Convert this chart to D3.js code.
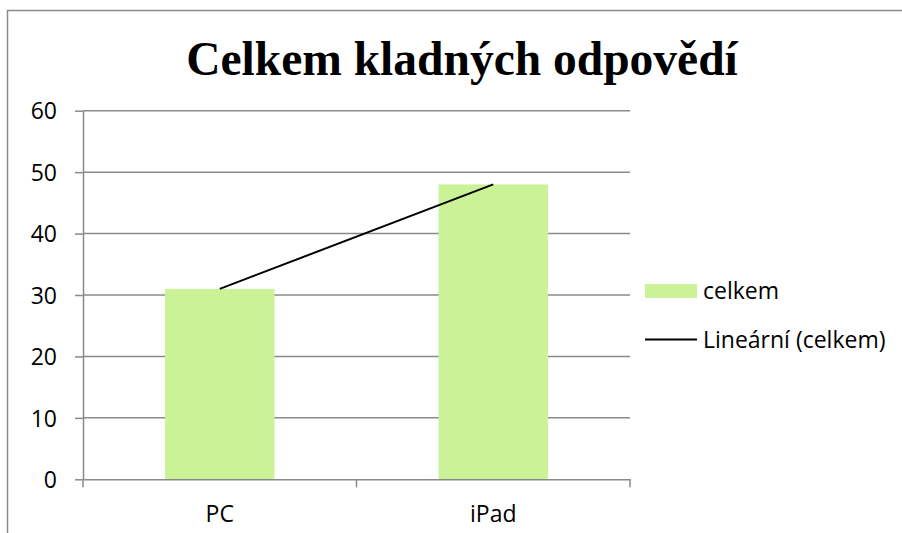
<!DOCTYPE html>
<html lang="cs">
<head>
    <meta charset="UTF-8">
    <title>Celkem kladných odpovědí</title>
    <script src="https://d3js.org/d3.v7.min.js"></script>
    <style>
        body { margin: 0; background: #fff; }
        .tick text { font-family: "Open Sans", sans-serif; font-size: 23px; fill: #000; }
        .legend text { font-family: "Open Sans", sans-serif; font-size: 23px; fill: #000; }
    </style>
</head>
<body>
<script>
    // chart data
    const categories = ["PC", "iPad"];
    const values = [31, 48];
    const yTicks = [0, 10, 20, 30, 40, 50, 60];
    const seriesName = "celkem";
    const trendName = "Lineární (celkem)";
    const title = "Celkem kladných odpovědí";

    const width = 902, height = 533;
    const plot = { left: 83, right: 630, top: 110.7, bottom: 479.3 };
    const axisColor = "#8a8a8a";

    const svg = d3.select("body").append("svg")
        .attr("width", width)
        .attr("height", height);

    // chart frame
    svg.append("rect")
        .attr("x", 7.5).attr("y", 10.5)
        .attr("width", 910).attr("height", 540)
        .attr("fill", "none")
        .attr("stroke", axisColor)
        .attr("stroke-width", 1.5);

    svg.append("text")
        .attr("x", 462).attr("y", 75)
        .attr("text-anchor", "middle")
        .style("font-family", "'Liberation Serif', 'Times New Roman', serif")
        .style("font-weight", "bold")
        .style("font-size", "47.5px")
        .text(title);

    const x = d3.scaleBand()
        .domain(categories)
        .range([plot.left, plot.right])
        .paddingInner(0.6)
        .paddingOuter(0.3);

    const xOuter = d3.scaleBand()
        .domain(categories)
        .range([plot.left, plot.right]);

    const y = d3.scaleLinear()
        .domain([0, 60])
        .range([plot.bottom, plot.top]);

    // gridlines
    svg.append("g")
        .selectAll("line")
        .data(yTicks.filter(d => d > 0))
        .join("line")
        .attr("x1", plot.left).attr("x2", plot.right)
        .attr("y1", d => y(d)).attr("y2", d => y(d))
        .attr("stroke", axisColor)
        .attr("stroke-width", 1.5);

    // y axis
    const yAxis = svg.append("g")
        .attr("transform", `translate(${plot.left},0)`)
        .call(d3.axisLeft(y).tickValues(yTicks).tickSize(8).tickPadding(18).tickSizeOuter(0));
    yAxis.selectAll("line, path").attr("stroke", axisColor).attr("stroke-width", 1.5);
    yAxis.selectAll("text").attr("dy", "0.36em");

    // bars
    svg.append("g")
        .selectAll("rect")
        .data(values)
        .join("rect")
        .attr("x", (d, i) => x(categories[i]))
        .attr("width", x.bandwidth())
        .attr("y", d => y(d))
        .attr("height", d => y(0) - y(d))
        .attr("fill", "#cbf297");

    // x axis
    const xAxis = svg.append("g")
        .attr("transform", `translate(0,${plot.bottom})`)
        .call(d3.axisBottom(xOuter).tickSize(0).tickPadding(26));
    xAxis.selectAll("path").attr("stroke", axisColor).attr("stroke-width", 1.5);
    xAxis.selectAll(".tick line").remove();
    xAxis.selectAll(".tick text").attr("dy", "0.71em");
    xAxis.append("g")
        .selectAll("line")
        .data([plot.left, ...categories.map(c => xOuter(c) + xOuter.bandwidth())])
        .join("line")
        .attr("x1", d => d).attr("x2", d => d)
        .attr("y1", 0).attr("y2", 8)
        .attr("stroke", axisColor)
        .attr("stroke-width", 1.5);

    // linear trend (least squares over category index)
    const n = values.length;
    const xs = values.map((d, i) => i + 1);
    const mx = d3.mean(xs), my = d3.mean(values);
    const slope = d3.sum(xs, (xi, i) => (xi - mx) * (values[i] - my)) / d3.sum(xs, xi => (xi - mx) ** 2);
    const intercept = my - slope * mx;
    const center = c => xOuter(c) + xOuter.bandwidth() / 2;

    svg.append("line")
        .attr("x1", center(categories[0])).attr("y1", y(intercept + slope * xs[0]))
        .attr("x2", center(categories[n - 1])).attr("y2", y(intercept + slope * xs[n - 1]))
        .attr("stroke", "#000")
        .attr("stroke-width", 2);

    // legend
    const legend = svg.append("g").attr("class", "legend");
    legend.append("rect")
        .attr("x", 645).attr("y", 284)
        .attr("width", 52).attr("height", 14)
        .attr("fill", "#cbf297");
    legend.append("text").attr("x", 703).attr("y", 299).text(seriesName);
    legend.append("line")
        .attr("x1", 645).attr("x2", 697)
        .attr("y1", 339.5).attr("y2", 339.5)
        .attr("stroke", "#000").attr("stroke-width", 2);
    legend.append("text").attr("x", 703).attr("y", 348).text(trendName);
</script>
</body>
</html>
